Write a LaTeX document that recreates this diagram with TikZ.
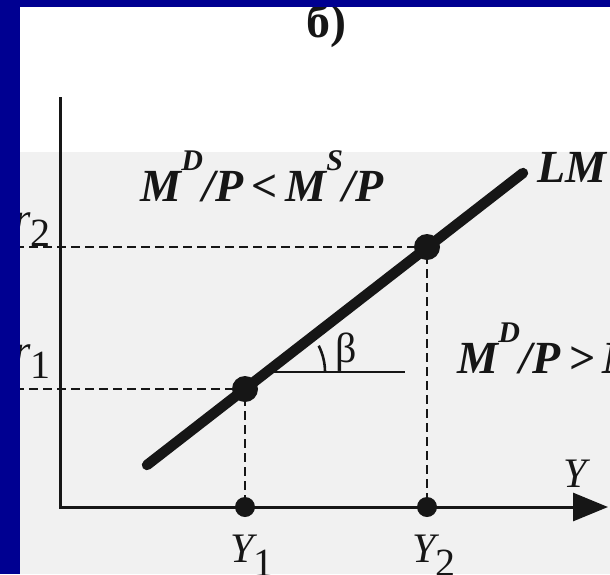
\documentclass[tikz,border=0pt]{standalone}
\usepackage{fontspec}
\setmainfont{Liberation Serif}
\usetikzlibrary{arrows.meta,calc}
\definecolor{slideblue}{RGB}{0,0,145}
\definecolor{ink}{RGB}{22,22,22}
\definecolor{paper}{RGB}{241,241,241}
\newcommand\upidx[1]{\raisebox{15.5pt}{\fontsize{15}{15}\selectfont #1}}
\newcommand\lowidx[1]{\raisebox{-7pt}{\fontsize{20}{20}\selectfont\upshape #1}}
\begin{document}
\begin{tikzpicture}[x=0.5pt,y=-0.5pt,
  lbl/.style={inner sep=0pt, text=ink, anchor=base west, font=\fontsize{21}{24}\selectfont\itshape},
  blbl/.style={lbl, font=\fontsize{23}{26}\selectfont\bfseries\itshape},
  guide/.style={draw=ink, line width=1.4pt, dash pattern=on 4.5pt off 2.5pt},
  axisline/.style={draw=ink, line width=1.5pt},
  lmline/.style={draw=ink, line width=5.2pt, line cap=round},
  bigdot/.style={circle, fill=ink, minimum size=13pt, inner sep=0pt},
  smalldot/.style={circle, fill=ink, minimum size=10pt, inner sep=0pt}]
\useasboundingbox (0,0) rectangle (610,574);
\begin{scope}
\clip (0,0) rectangle (610,574);
\fill[white] (0,0) rectangle (610,574);
\fill[paper] (20,152) rectangle (610,574);
% axes
\coordinate (O) at (60,507);
\coordinate (ytop) at (60,97);
\coordinate (xtip) at (608,507);
\draw[axisline, -{Triangle[length=17.5pt,width=14pt]}] (ytop) -- (O) -- (xtip);
% LM line
\coordinate (lmA) at (147,465);
\coordinate (lmB) at (523,173);
% guide lines
\coordinate (r2s) at (15,247);
\coordinate (r1s) at (15,389);
\node[smalldot] (D1) at (245,507) {};
\node[smalldot] (D2) at (427,507) {};
\draw[guide] (r2s) -- (427,247) -- (D2.center);
\draw[guide] (r1s) -- (245,389) -- (D1.center);
\draw[lmline] (lmA) -- (lmB);
\node[bigdot] (P1) at (245,389) {};
\node[bigdot] (P2) at (427,247) {};
% angle
\coordinate (V) at (267,372);
\coordinate (hEnd) at (405,372);
\draw[ink, line width=1.3pt] (V) -- (hEnd);
\draw[ink, line width=1.3pt] ($(V)+(58,0)$) arc[start angle=0, end angle=-27, radius=58];
\node[lbl, font=\fontsize{21}{24}\selectfont] (beta) at (335,362) {β};
% labels
\node[blbl] (top) at (140,201) {M\upidx{D}/P\,<\,M\upidx{S}/P};
\node[blbl] (right) at (457,373) {M\upidx{D}/P\,>\,M\upidx{S}/P};
\node[blbl] (LM) at (537,182) {LM};
\node[lbl] (r2) at (14,232) {r\lowidx{2}};
\node[lbl] (r1) at (14,364) {r\lowidx{1}};
\node[lbl] (Y1) at (230,562) {Y\lowidx{1}};
\node[lbl] (Y2) at (412,562) {Y\lowidx{2}};
\node[lbl] (Y) at (563,487) {Y};
\node[lbl, font=\fontsize{24}{26}\selectfont\bfseries] (title) at (306,37) {б)};
% slide border
\fill[slideblue] (0,0) rectangle (20,574);
\fill[slideblue] (0,0) rectangle (610,7);
\end{scope}
\end{tikzpicture}
\end{document}
